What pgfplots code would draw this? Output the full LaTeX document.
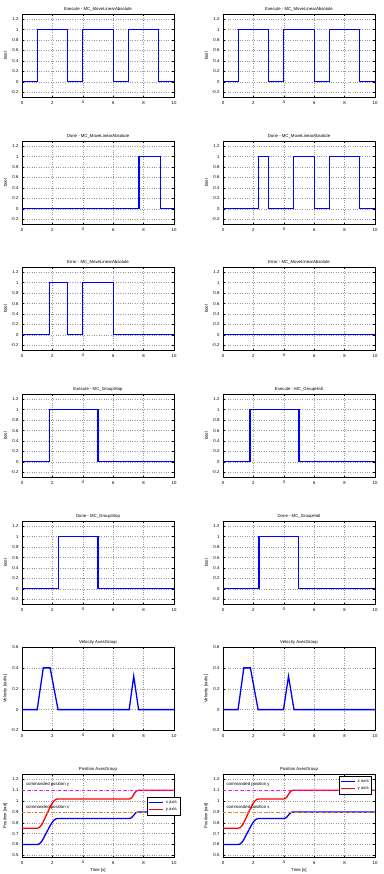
\documentclass[border=0pt]{standalone}
\usepackage{fontspec}
\setmainfont{Liberation Sans}
\usepackage{pgfplots}
\pgfplotsset{compat=1.18}
\definecolor{mblue}{RGB}{0,0,255}
\definecolor{mred}{RGB}{255,0,0}
\definecolor{mmag}{RGB}{255,0,255}
\definecolor{morange}{RGB}{255,128,0}
\newcommand\fs{\fontsize{4.3}{5}\selectfont}
\pgfplotsset{
  every axis title shift=1.2pt,
  base/.style={scale only axis, width=152pt, height=83.5pt,
    xmin=0, xmax=10, xtick={0,2,4,6,8,10},
    grid=major, major grid style={dotted, gray!80, line width=0.4pt},
    axis line style={line width=0.5pt},
    tick align=inside, major tick length=1.8pt,
    tick style={black, line width=0.4pt},
    ticklabel style={font=\fs},
    /pgf/number format/assume math mode=true,
    /pgf/number format/fixed,
    label style={font=\fs},
    title style={font=\fs, inner sep=1.5pt},
    ylabel style={at={(axis description cs:-0.11,0.5)}, anchor=center},
    every axis plot/.append style={line width=1.3pt}},
  boolax/.style={base, ymin=-0.3, ymax=1.3, ytick={-0.2,0,0.2,0.4,0.6,0.8,1,1.2}, ylabel={bool}},
  velax/.style={base, ymin=-0.2, ymax=0.6, ytick={-0.2,0,0.2,0.4,0.6}, ylabel={Velocity [rad/s]}},
  posax/.style={base, ymin=0.48, ymax=1.25, ytick={0.5,0.6,0.7,0.8,0.9,1,1.1,1.2}, ylabel={Position [rad]}, xlabel={Time [s]},
    xlabel style={yshift=3pt},
    legend style={font=\fs, draw=black, line width=0.5pt, inner sep=1pt, row sep=-1.5pt, legend cell align=left},
    legend image code/.code={\draw[#1] (0pt,0pt) -- (14pt,0pt);}},
}
\begin{document}
\begin{tikzpicture}
\path[use as bounding box] (0,0) rectangle (383pt,874pt);

% Row 1
\begin{axis}[boolax, at={(22pt,860pt)}, anchor=north west, title={Execute - MC\_MoveLinearAbsolute}]
\addplot[mblue] coordinates {(0,0)(1,0)(1,1)(3,1)(3,0)(4,0)(4,1)(6,1)(6,0)(7,0)(7,1)(9,1)(9,0)(10,0)};
\end{axis}
\begin{axis}[boolax, at={(223pt,860pt)}, anchor=north west, title={Execute - MC\_MoveLinearAbsolute}]
\addplot[mblue] coordinates {(0,0)(1,0)(1,1)(3,1)(3,0)(4,0)(4,1)(6,1)(6,0)(7,0)(7,1)(9,1)(9,0)(10,0)};
\end{axis}

% Row 2
\begin{axis}[boolax, at={(22pt,733pt)}, anchor=north west, title={Done - MC\_MoveLinearAbsolute}]
\addplot[mblue] coordinates {(0,0)(7.7,0)(7.7,1)(9.1,1)(9.1,0)(10,0)};
\end{axis}
\begin{axis}[boolax, at={(223pt,733pt)}, anchor=north west, title={Done - MC\_MoveLinearAbsolute}]
\addplot[mblue] coordinates {(0,0)(2.33,0)(2.33,1)(3,1)(3,0)(4.65,0)(4.65,1)(6,1)(6,0)(7,0)(7,1)(9,1)(9,0)(10,0)};
\end{axis}

% Row 3
\begin{axis}[boolax, at={(22pt,607pt)}, anchor=north west, title={Error - MC\_MoveLinearAbsolute}]
\addplot[mblue] coordinates {(0,0)(1.82,0)(1.82,1)(3,1)(3,0)(4,0)(4,1)(6,1)(6,0)(10,0)};
\end{axis}
\begin{axis}[boolax, at={(223pt,607pt)}, anchor=north west, title={Error - MC\_MoveLinearAbsolute}]
\addplot[mblue] coordinates {(0,0)(10,0)};
\end{axis}

% Row 4
\begin{axis}[boolax, at={(22pt,480pt)}, anchor=north west, title={Execute - MC\_GroupStop}]
\addplot[mblue] coordinates {(0,0)(1.82,0)(1.82,1)(5,1)(5,0)(10,0)};
\end{axis}
\begin{axis}[boolax, at={(223pt,480pt)}, anchor=north west, title={Execute - MC\_GroupHalt}]
\addplot[mblue] coordinates {(0,0)(1.78,0)(1.78,1)(5,1)(5,0)(10,0)};
\end{axis}

% Row 5
\begin{axis}[boolax, at={(22pt,353pt)}, anchor=north west, title={Done - MC\_GroupStop}]
\addplot[mblue] coordinates {(0,0)(2.4,0)(2.4,1)(5,1)(5,0)(10,0)};
\end{axis}
\begin{axis}[boolax, at={(223pt,353pt)}, anchor=north west, title={Done - MC\_GroupHalt}]
\addplot[mblue] coordinates {(0,0)(2.37,0)(2.37,1)(4.95,1)(4.95,0)(10,0)};
\end{axis}

% Row 6
\begin{axis}[velax, at={(22pt,227pt)}, anchor=north west, title={Velocity AxesGroup}]
\addplot[mblue] coordinates {(0,0)(1.0,0)(1.4,0.4)(1.85,0.4)(2.37,0)(7.05,0)(7.35,0.32)(7.67,0)(10,0)};
\end{axis}
\begin{axis}[velax, at={(223pt,227pt)}, anchor=north west, title={Velocity AxesGroup}]
\addplot[mblue] coordinates {(0,0)(0.99,0)(1.37,0.4)(1.8,0.4)(2.31,0)(3.98,0)(4.31,0.32)(4.67,0)(10,0)};
\end{axis}

% Row 7
\begin{axis}[posax, at={(22pt,100pt)}, anchor=north west, title={Position AxesGroup},
  legend style={at={(1.04,0.726)}, anchor=north east}]
\addplot[mblue] coordinates {(0,0.6)(1.0,0.6)(1.1,0.6033)(1.2,0.6133)(1.3,0.63)(1.4,0.6533)(1.5,0.68)(1.6,0.7067)(1.7,0.7333)(1.85,0.7733)(1.95,0.7973)(2.05,0.816)(2.15,0.8293)(2.25,0.8373)(2.35,0.84)
 (7.05,0.84)(7.15,0.8433)(7.25,0.8533)(7.35,0.87)(7.45,0.8867)(7.55,0.8967)(7.65,0.9)(10,0.9)};
\addlegendentry{x axis}
\addplot[mred] coordinates {(0,0.75)(1.0,0.75)(1.1,0.7538)(1.2,0.765)(1.3,0.7838)(1.4,0.81)(1.5,0.84)(1.6,0.87)(1.7,0.9)(1.85,0.945)(1.95,0.972)(2.05,0.993)(2.15,1.008)(2.25,1.017)(2.35,1.02)
 (7.05,1.02)(7.15,1.0244)(7.25,1.0378)(7.35,1.06)(7.45,1.0822)(7.55,1.0956)(7.65,1.1)(10,1.1)};
\addlegendentry{y axis}
\addplot[mmag, dashed, line width=0.8pt, forget plot] coordinates {(0,1.1)(10,1.1)};
\addplot[morange, dashed, line width=0.8pt, forget plot] coordinates {(0,0.9)(10,0.9)};
\node[anchor=west, font=\fs, inner sep=0pt] at (axis cs:0.25,1.15) {commanded position y};
\node[anchor=west, font=\fs, inner sep=0pt] at (axis cs:0.25,0.945) {commanded position x};
\end{axis}
\begin{axis}[posax, at={(223pt,100pt)}, anchor=north west, title={Position AxesGroup},
  legend style={at={(0.98,0.976)}, anchor=north east}]
\addplot[mblue] coordinates {(0,0.6)(1.0,0.6)(1.1,0.6033)(1.2,0.6133)(1.3,0.63)(1.4,0.6533)(1.5,0.68)(1.6,0.7067)(1.7,0.7333)(1.85,0.7733)(1.95,0.7973)(2.05,0.816)(2.15,0.8293)(2.25,0.8373)(2.35,0.84)
 (4.0,0.84)(4.1,0.8433)(4.2,0.8533)(4.3,0.87)(4.4,0.8867)(4.5,0.8967)(4.6,0.9)(10,0.9)};
\addlegendentry{x axis}
\addplot[mred] coordinates {(0,0.75)(1.0,0.75)(1.1,0.7538)(1.2,0.765)(1.3,0.7838)(1.4,0.81)(1.5,0.84)(1.6,0.87)(1.7,0.9)(1.85,0.945)(1.95,0.972)(2.05,0.993)(2.15,1.008)(2.25,1.017)(2.35,1.02)
 (4.0,1.02)(4.1,1.0244)(4.2,1.0378)(4.3,1.06)(4.4,1.0822)(4.5,1.0956)(4.6,1.1)(10,1.1)};
\addlegendentry{y axis}
\addplot[mmag, dashed, line width=0.8pt, forget plot] coordinates {(0,1.1)(10,1.1)};
\addplot[morange, dashed, line width=0.8pt, forget plot] coordinates {(0,0.9)(10,0.9)};
\node[anchor=west, font=\fs, inner sep=0pt] at (axis cs:0.22,1.15) {commanded position y};
\node[anchor=west, font=\fs, inner sep=0pt] at (axis cs:0.22,0.945) {commanded position x};
\end{axis}
\end{tikzpicture}
\end{document}
